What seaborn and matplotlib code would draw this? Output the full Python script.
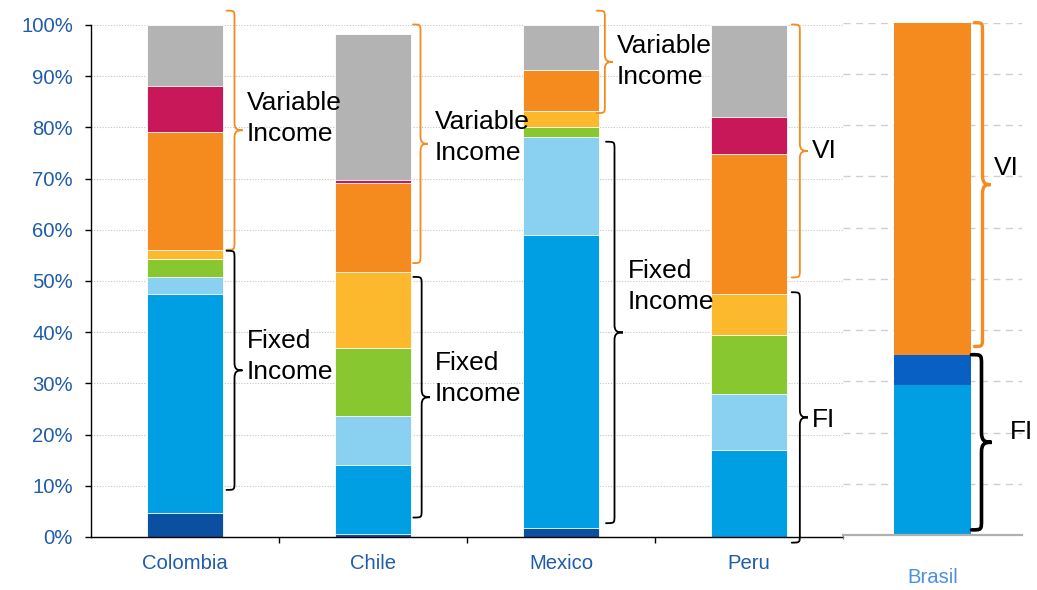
import numpy as np
import pandas as pd
import matplotlib
matplotlib.use("Agg")
import matplotlib.pyplot as plt
import seaborn as sns
from matplotlib.path import Path
from matplotlib.patches import PathPatch

# ---------------- data ----------------
countries = ["Colombia", "Chile", "Mexico", "Peru"]
segment_names = ["Cash & deposits", "Government bonds", "Corporate bonds",
                 "Financial sector debt", "Foreign fixed income",
                 "Domestic equity", "Mutual funds", "Foreign equity"]
cash = [4.7, 0.5, 1.8, 0.0]
gov_bonds = [42.7, 13.6, 57.2, 17.0]
corp_bonds = [3.4, 9.5, 19.2, 10.9]
fin_debt = [3.5, 13.4, 1.8, 11.5]
foreign_fi = [1.8, 14.8, 3.2, 8.1]
dom_equity = [23.0, 17.4, 8.1, 27.3]
mutual_funds = [8.9, 0.5, 0.0, 7.2]
foreign_equity = [12.0, 28.6, 8.7, 18.0]

brasil_label = ["Brasil"]
brasil_names = ["Government bonds", "Other fixed income", "Variable income"]
brasil_values = [29.3, 5.9, 64.8]

yticks = [0, 10, 20, 30, 40, 50, 60, 70, 80, 90, 100]
ytick_labels = [f"{v}%" for v in yticks]

# brace spans (percent)
vi_spans = [(56.1, 102.8), (53.5, 100.1), (82.8, 102.8), (50.7, 100.1)]
fi_spans = [(9.2, 55.9), (3.8, 50.8), (2.7, 77.2), (-1.1, 47.8)]
vi_texts = ["Variable\nIncome", "Variable\nIncome", "Variable\nIncome", "VI"]
fi_texts = ["Fixed\nIncome", "Fixed\nIncome", "Fixed\nIncome", "FI"]
brasil_vi_span = (36.8, 100.0)
brasil_fi_span = (1.0, 35.2)
brasil_vi_text = "VI"
brasil_fi_text = "FI"

# ---------------- layout / style ----------------
colors = ["#0a4fa0", "#009fe3", "#8ad0f1", "#88c730", "#fdb92e",
          "#f58a1f", "#c8185a", "#b3b3b3"]
brasil_colors = ["#009fe3", "#0a5fc4", "#f58a1f"]
orange_brace = "#f58a1f"
label_blue = "#1f5caa"
brasil_blue = "#4a90e2"

W, H = 1037, 590
sns.set_theme(style="white")
plt.rcParams["font.family"] = ["Liberation Sans", "DejaVu Sans"]

fig = plt.figure(figsize=(W / 100, H / 100), dpi=100)
ax = fig.add_axes([91 / W, 1 - 537 / H, (843 - 91) / W, (537 - 25) / H])
axb = fig.add_axes([843 / W, 1 - 535 / H, 179 / W, (535 - 22.7) / H])

PX_X_MAIN = 188.0   # px per category unit (main)
PX_X_BR = 179.0     # px per category unit (Brasil)
PX_Y = 5.12         # px per percent

# ---------------- main stacked bars ----------------
stack = np.array([cash, gov_bonds, corp_bonds, fin_debt, foreign_fi,
                  dom_equity, mutual_funds, foreign_equity])
cum = np.cumsum(stack, axis=0)
for i in reversed(range(len(segment_names))):
    df = pd.DataFrame({"country": countries, "value": cum[i]})
    sns.barplot(data=df, x="country", y="value", order=countries,
                color=colors[i], saturation=1, width=0.4,
                edgecolor="white", linewidth=0.6, ax=ax, zorder=2)

bstack = np.array(brasil_values)
bcum = np.cumsum(bstack)
for i in reversed(range(len(brasil_names))):
    df = pd.DataFrame({"country": brasil_label, "value": [bcum[i]]})
    sns.barplot(data=df, x="country", y="value", color=brasil_colors[i],
                saturation=1, width=0.425, edgecolor="none", linewidth=0,
                ax=axb, zorder=2)

# ---------------- axes styling ----------------
ax.set_xlim(-0.5, 3.5)
ax.set_ylim(0, 100)
ax.set_xlabel("")
ax.set_ylabel("")
ax.set_yticks(yticks)
ax.set_yticklabels(ytick_labels, color=label_blue, fontsize=14.6)
ax.tick_params(axis="y", direction="out", length=4, width=1, color="black",
               pad=9, left=True)
ax.set_xticks(range(len(countries)))
ax.set_xticklabels(countries, color=label_blue, fontsize=14.6)
ax.tick_params(axis="x", which="major", length=0, pad=12)
ax.set_xticks([0.5, 1.5, 2.5], minor=True)
ax.tick_params(axis="x", which="minor", direction="out", length=4, width=1,
               color="black", bottom=True)
for s in ["top", "right"]:
    ax.spines[s].set_visible(False)
for s in ["left", "bottom"]:
    ax.spines[s].set_color("black")
    ax.spines[s].set_linewidth(1.0)
ax.grid(axis="y", linestyle=(0, (1, 1.5)), color="#c4c4c4", linewidth=0.8)
ax.grid(axis="x", visible=False)
ax.set_axisbelow(True)
ax.patch.set_alpha(0)

axb.set_xlim(-0.5, 0.5)
axb.set_ylim(0, 100)
axb.set_xlabel("")
axb.set_ylabel("")
axb.set_yticks(yticks)
axb.set_yticklabels([])
axb.tick_params(axis="y", length=0)
axb.set_xticks([0])
axb.set_xticklabels(brasil_label, color=brasil_blue, fontsize=14.6)
axb.tick_params(axis="x", which="major", length=0, pad=24)
axb.set_xticks([-0.5], minor=True)
axb.tick_params(axis="x", which="minor", direction="out", length=3, width=0.8,
                color="#777777", bottom=True)
for s in ["top", "right", "left"]:
    axb.spines[s].set_visible(False)
axb.spines["bottom"].set_color("#b0b0b0")
axb.spines["bottom"].set_linewidth(1.6)
axb.grid(axis="y", linestyle=(0, (5, 4)), color="#cfcfcf", linewidth=1.0)
axb.grid(axis="x", visible=False)
axb.set_axisbelow(True)
axb.patch.set_alpha(0)


# ---------------- braces ----------------
def brace(a, xc, pxx, end_px, tip_px, lo, hi, color, lw, r_px=8):
    x0 = xc + end_px / pxx
    x2 = xc + tip_px / pxx
    x1 = (x0 + x2) / 2
    mid = (lo + hi) / 2
    r = r_px / PX_Y
    verts = [
        (x0, hi),
        (x1, hi), (x1, hi), (x1, hi - r),
        (x1, mid + r),
        (x1, mid + r * 0.15), (x1 + (x2 - x1) * 0.3, mid), (x2, mid),
        (x1 + (x2 - x1) * 0.3, mid), (x1, mid - r * 0.15), (x1, mid - r),
        (x1, lo + r),
        (x1, lo), (x1, lo), (x0, lo),
    ]
    codes = [Path.MOVETO,
             Path.CURVE4, Path.CURVE4, Path.CURVE4,
             Path.LINETO,
             Path.CURVE4, Path.CURVE4, Path.CURVE4,
             Path.CURVE4, Path.CURVE4, Path.CURVE4,
             Path.LINETO,
             Path.CURVE4, Path.CURVE4, Path.CURVE4]
    p = PathPatch(Path(verts, codes), facecolor="none", edgecolor=color,
                  linewidth=lw, clip_on=False, zorder=5, capstyle="round")
    a.add_patch(p)


vi_geom = [(41.5, 57.5), (40, 55), (35.7, 52), (42.7, 59)]
fi_geom = [(41.5, 57.5), (40.3, 57), (45, 62), (42.7, 59)]
vi_text_x = [61.5, 62, 55.7, 63]
fi_text_x = [61.5, 62, 67, 63]
vi_text_y = [81.8, 78.1, 92.8, 75.4]
fi_text_y = [35.2, 30.9, 48.9, 22.9]
ANN_FS = 19
ANN_LS = 1.36

for i in range(len(countries)):
    lo, hi = vi_spans[i]
    brace(ax, i, PX_X_MAIN, vi_geom[i][0], vi_geom[i][1], lo, hi, orange_brace, 1.3)
    lo, hi = fi_spans[i]
    brace(ax, i, PX_X_MAIN, fi_geom[i][0], fi_geom[i][1], lo, hi, "black", 1.3)
    ax.text(i + vi_text_x[i] / PX_X_MAIN, vi_text_y[i], vi_texts[i], fontsize=ANN_FS,
            ha="left", va="center", color="black", linespacing=ANN_LS, clip_on=False)
    ax.text(i + fi_text_x[i] / PX_X_MAIN, fi_text_y[i], fi_texts[i], fontsize=ANN_FS,
            ha="left", va="center", color="black", linespacing=ANN_LS, clip_on=False)

brace(axb, 0, PX_X_BR, 42, 58, brasil_vi_span[0], brasil_vi_span[1], orange_brace, 2.4, r_px=10)
brace(axb, 0, PX_X_BR, 39, 59, brasil_fi_span[0], brasil_fi_span[1], "black", 2.6, r_px=10)
axb.text(61 / PX_X_BR, 71.7, brasil_vi_text, fontsize=ANN_FS, ha="left", va="center",
         color="black", clip_on=False)
axb.text(77 / PX_X_BR, 20.2, brasil_fi_text, fontsize=ANN_FS, ha="left", va="center",
         color="black", clip_on=False)

fig.savefig("out.png", dpi=100)
